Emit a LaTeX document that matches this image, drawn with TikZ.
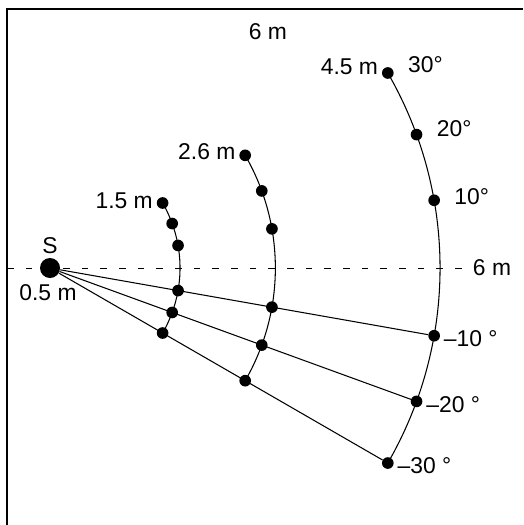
\documentclass[tikz,border=0pt]{standalone}
\usepackage{fontspec}
\setmainfont{Liberation Sans}
\usepackage{tikz}
\usetikzlibrary{positioning}

\begin{document}
\begin{tikzpicture}[
    x=2.6cm, y=2.6cm,
    dot/.style={circle, fill, inner sep=0pt, minimum size=0.35cm},
    source/.style={circle, fill, inner sep=0pt, minimum size=0.6cm},
    lbl/.style={font=\fontsize{19.5}{23}\selectfont, inner sep=2pt},
    arcline/.style={line width=0.9pt},
    ray/.style={line width=0.9pt},
    frame/.style={line width=1.6pt},
    axis/.style={line width=0.8pt, dash pattern=on 0.2cm off 0.36cm}
]
    \useasboundingbox (-0.577,-2.965) rectangle (5.457,3.092);
    \draw[frame] (-0.496,-2.965) |- (5.457,2.988);

    \coordinate (dstart) at (-0.496,0);
    \coordinate (dend) at (4.85,0);
    \draw[axis] (dstart) -- (dend);
    \node[lbl, right=0pt of dend] (sixright) {6 m};
    \node[lbl] (sixtop) at (2.515,2.723) {6 m};

    \foreach \r/\n in {1.5/a, 2.6/b, 4.5/c} {
        \draw[arcline] (30:\r) arc[start angle=30, end angle=-30, radius=\r];
        \foreach \a in {30,20,10,-10,-20,-30}
            \node[dot] (\n\a) at (\a:\r) {};
    }

    \node[source] (S) at (0,0) {};
    \node[lbl, above=1.5pt of S] (slbl) {S};
    \node[lbl, below=3pt of S, xshift=-0.06cm] (hlbl) {0.5 m};

    \draw[ray] (S) -- (c-10);
    \draw[ray] (S) -- (c-20);
    \draw[ray] (S) -- (c-30);

    \node[lbl, left=1pt of a30, yshift=0.06cm] (ralbl) {1.5 m};
    \node[lbl, left=1pt of b30, yshift=0.12cm] (rblbl) {2.6 m};
    \node[lbl, left=1pt of c30, yshift=0.18cm] (rclbl) {4.5 m};

    \node[lbl, right=10pt of c30, yshift=0.24cm] (p30) {30°};
    \node[lbl, right=10pt of c20, yshift=0.18cm] (p20) {20°};
    \node[lbl, right=10pt of c10, yshift=0.12cm] (p10) {10°};
    \node[lbl, right=1pt of c-10, yshift=-0.09cm] (m10) {–10 °};
    \node[lbl, right=1pt of c-20, yshift=-0.09cm] (m20) {–20 °};
    \node[lbl, right=1pt of c-30, yshift=-0.09cm] (m30) {–30 °};
\end{tikzpicture}
\end{document}
